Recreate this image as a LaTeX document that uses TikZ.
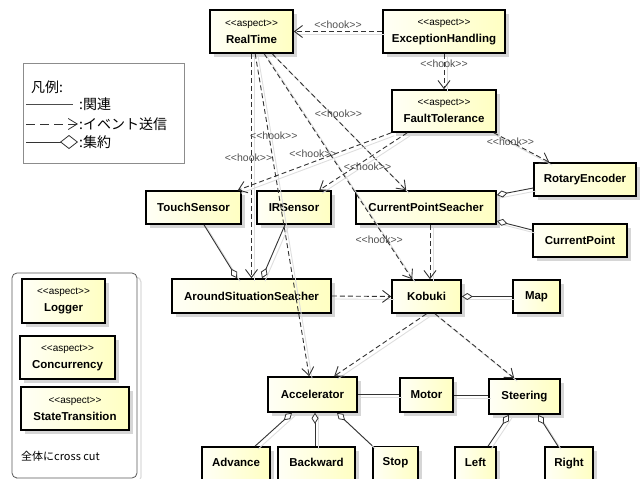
\documentclass[tikz,border=0pt]{standalone}
\usepackage{fontspec}
\setmainfont{Liberation Sans}
\newfontfamily\jpfont{Noto Sans CJK JP}
\usetikzlibrary{arrows.meta,shadows,calc}
\definecolor{boxL}{HTML}{FFFFF6}
\definecolor{boxR}{HTML}{FFFFC2}
\definecolor{lblgray}{HTML}{505050}
\definecolor{linegray}{HTML}{333333}
% stereotype brackets, kept apart so they are not merged into guillemets
\newcommand\stereotype[1]{<\kern0pt<#1>\kern0pt>}

\begin{document}
\begin{tikzpicture}[x=1pt,y=-1pt,
  cls/.style={draw=black, line width=1.6pt, left color=boxL, right color=boxR,
    drop shadow={shadow xshift=4pt, shadow yshift=-4pt, fill=black!16, opacity=1},
    inner sep=0pt, align=center, font=\bfseries\fontsize{11.5}{14}\selectfont},
  aspect/.style={cls, font=\bfseries\fontsize{11.5}{17}\selectfont},
  box/.style 2 args={minimum width=#1pt, minimum height=#2pt},
  cutbox/.style={minimum height=40pt, text depth=10pt},
  ghost/.style={preaction={draw=black!13, solid, line width=0.9pt, arrows=-,
    transform canvas={shift={(3pt,-3pt)}}}},
  dep/.style={ghost, draw=linegray, line width=0.9pt, dash pattern=on 5pt off 3pt,
    -{Straight Barb[length=8pt, width=12pt, line width=0.9pt]}},
  agg/.style={ghost, draw=linegray, line width=0.9pt,
    {Diamond[fill=white, length=11pt, width=7pt, line width=0.8pt]}-},
  assoc/.style={ghost, draw=linegray, line width=0.9pt},
  hooklbl/.style={font=\fontsize{10.5}{12}\selectfont, text=lblgray, inner sep=1pt},
  jp/.style={font=\jpfont\fontsize{14}{16}\selectfont, inner sep=0pt},
]
\useasboundingbox (0,0) rectangle (643,479);
\clip (0,0) rectangle (643,479);

% ---------- legend ----------
\node[draw=black!45, line width=0.7pt, box={161}{100}, inner sep=0pt] (legend) at (103.5,113) {};
\node[jp, anchor=west] (lgtitle) at (31,87) {凡例:};
\coordinate (l1a) at (26,104); \coordinate (l1b) at (73,104);
\coordinate (l2a) at (26,124); \coordinate (l2b) at (78,124);
\coordinate (l3a) at (26,142); \coordinate (l3b) at (78,142);
\draw[draw=black!70, line width=0.8pt] (l1a) -- (l1b);
\draw[draw=black!80, line width=0.8pt, dash pattern=on 9pt off 5pt,
  -{Straight Barb[length=9pt, width=11pt, line width=0.8pt]}] (l2a) -- (l2b);
\draw[draw=black!80, line width=0.8pt,
  -{Diamond[fill=white, length=18pt, width=14pt, line width=0.8pt]}] (l3a) -- (l3b);
\node[jp, anchor=west] (lgassoc) at (79,104) {:関連};
\node[jp, anchor=west] (lgevent) at (79,124) {:イベント送信};
\node[jp, anchor=west] (lgagg) at (79,142) {:集約};

% ---------- cross-cutting aspects container ----------
\draw[black!14, line width=1.2pt, rounded corners=5pt] (16,277) rectangle (141,482);
\node[draw=black!65, fill=white, line width=0.8pt, rounded corners=5pt, box={125}{205}, inner sep=0pt]
  (cross) at (74.5,375.5) {};
\node[aspect, box={83}{44}] (Logger) at (63.5,301)
  {{\mdseries\fontsize{10}{17}\selectfont\stereotype{aspect}}\\Logger};
\node[aspect, box={95}{43}] (Concurrency) at (67.5,357.5)
  {{\mdseries\fontsize{10}{17}\selectfont\stereotype{aspect}}\\Concurrency};
\node[aspect, box={108}{43}] (StateTransition) at (75,408.5)
  {{\mdseries\fontsize{10}{17}\selectfont\stereotype{aspect}}\\StateTransition};
\node[anchor=west, font=\jpfont\fontsize{11}{13}\selectfont, inner sep=0pt] (crosscut) at (21,456) {全体にcross cut};

% ---------- aspects ----------
\node[aspect, box={83}{43}] (RT) at (251.5,31.5)
  {{\mdseries\fontsize{10}{17}\selectfont\stereotype{aspect}}\\RealTime};
\node[aspect, box={122}{43}] (EH) at (444,31.5)
  {{\mdseries\fontsize{10}{17}\selectfont\stereotype{aspect}}\\ExceptionHandling};
\node[aspect, box={104}{42}] (FT) at (444,111)
  {{\mdseries\fontsize{10}{17}\selectfont\stereotype{aspect}}\\FaultTolerance};

% ---------- classes ----------
\node[cls, box={102}{33}] (RE) at (585,179.5) {RotaryEncoder};
\node[cls, box={140}{33}] (CPS) at (426,207.5) {CurrentPointSeacher};
\node[cls, box={94}{33}] (CP) at (580,240.5) {CurrentPoint};
\node[cls, box={95}{33}] (TS) at (193.5,207.5) {TouchSensor};
\node[cls, box={74}{33}] (IR) at (294,207.5) {IRSensor};
\node[cls, box={159}{34}] (ASS) at (251.5,296) {AroundSituationSeacher};
\node[cls, box={69}{33}] (Kobuki) at (426.5,296.5) {Kobuki};
\node[cls, box={47}{33}] (Map) at (536.5,296.5) {Map};
\node[cls, box={89}{35}] (Acc) at (312.5,394.5) {Accelerator};
\node[cls, box={53}{34}] (Motor) at (426.5,395) {Motor};
\node[cls, box={71}{35}] (Steer) at (524.5,396.5) {Steering};
\node[cls, box={68}{40}, cutbox] (Adv) at (236,467) {Advance};
\node[cls, box={77}{40}, cutbox] (Back) at (316.5,467) {Backward};
\node[cls, box={45}{40}, cutbox] (Stop) at (395.5,466.5) {Stop};
\node[cls, box={41}{40}, cutbox] (Left) at (475.5,467) {Left};
\node[cls, box={48}{40}, cutbox] (Right) at (569,467) {Right};

% ---------- hook dependencies ----------
\draw[dep] (EH.west) -- (RT.east)
  node[midway, above=1pt, hooklbl] {\stereotype{hook}};
\draw[dep] (EH.south) -- (FT.north)
  node[pos=0.28, hooklbl] {\stereotype{hook}};
\draw[dep] (RT.south) -- (ASS.north)
  node[pos=0.465, xshift=-3pt, hooklbl] {\stereotype{hook}};
\draw[dep] ([xshift=46pt]RT.south west) -- ([xshift=42pt]Acc.north west)
  node[pos=0.253, xshift=5pt, hooklbl] {\stereotype{hook}};
\draw[dep] ([xshift=55pt]RT.south west) -- ([xshift=21pt]Kobuki.north west)
  node[pos=0.824, xshift=-7pt, hooklbl] {\stereotype{hook}};
\draw[dep] ([xshift=63pt]RT.south west) -- ([xshift=51pt]CPS.north west)
  node[pos=0.442, xshift=7pt, hooklbl] {\stereotype{hook}};
\draw[dep] (FT.south west) -- ([xshift=-4pt]TS.north east)
  node[pos=0.51, yshift=8pt, hooklbl] {\stereotype{hook}};
\draw[dep] ([xshift=16pt]FT.south west) -- ([xshift=63pt]IR.north west)
  node[pos=0.45, yshift=-8pt, hooklbl] {\stereotype{hook}};
\draw[dep] ([xshift=-3pt]FT.south east) -- ([xshift=16pt]RE.north west)
  node[pos=0.3, hooklbl] {\stereotype{hook}};

% ---------- event dependencies ----------
\draw[dep] ([xshift=4pt]CPS.south) -- ([xshift=3.5pt]Kobuki.north);
\draw[dep] (ASS.east) -- (Kobuki.west);
\draw[dep] (Kobuki.south) -- ([xshift=67pt]Acc.north west);
\draw[dep] ([xshift=8.5pt]Kobuki.south) -- ([xshift=26pt]Steer.north west);

% ---------- aggregations ----------
\draw[agg] ([xshift=-14.5pt]ASS.north) -- ([xshift=10.5pt]TS.south);
\draw[agg] ([xshift=10.5pt]ASS.north) -- ([xshift=-9pt]IR.south);
\draw[agg] ([yshift=12.5pt]CPS.east) -- ([yshift=-8.5pt]RE.west);
\draw[agg] ([yshift=-13.5pt]CPS.east) -- ([yshift=10.5pt]CP.west);
\draw[agg] (Kobuki.east) -- (Map.west);
\draw[agg] ([xshift=-20.5pt]Acc.south) -- ([xshift=19pt]Adv.north);
\draw[agg] ([xshift=2.5pt]Acc.south) -- ([xshift=-1.5pt]Back.north);
\draw[agg] ([xshift=24.5pt]Acc.south) -- (Stop.north west);
\draw[agg] ([xshift=-15.5pt]Steer.south) -- ([xshift=12.5pt]Left.north);
\draw[agg] ([xshift=13.5pt]Steer.south) -- ([xshift=-11pt]Right.north);

% ---------- associations ----------
\draw[assoc] (Acc.east) -- (Acc.east -| Motor.west);
\draw[assoc] (Motor.east) -- (Motor.east -| Steer.west);
\end{tikzpicture}
\end{document}
